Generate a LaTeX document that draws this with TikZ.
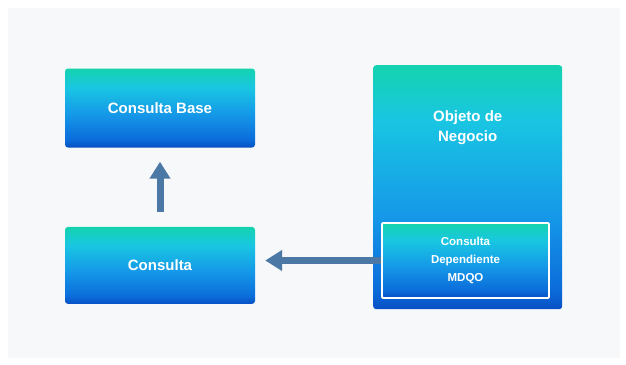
\documentclass[tikz,border=0pt]{standalone}
\usepackage{fontspec}
\setmainfont{Liberation Sans}
\usepackage{tikz}
\usetikzlibrary{arrows.meta,positioning}

\definecolor{tealtop}{HTML}{14D3AE}
\definecolor{cyanmid}{HTML}{19C6E2}
\definecolor{bluemid}{HTML}{1598E8}
\definecolor{bluelow}{HTML}{0B6CDA}
\definecolor{deepblue}{HTML}{0850C4}
\definecolor{arrowblue}{HTML}{4C78A6}
\definecolor{paper}{HTML}{F7F8FA}

\pgfdeclareverticalshading{boxfade}{100bp}{
  color(0bp)=(deepblue); color(25bp)=(deepblue); color(30bp)=(bluelow);
  color(46bp)=(bluemid); color(63bp)=(cyanmid); color(75bp)=(tealtop); color(100bp)=(tealtop)}
\pgfdeclareverticalshading{tallfade}{100bp}{
  color(0bp)=(deepblue); color(25bp)=(deepblue); color(29bp)=(bluelow);
  color(44bp)=(bluemid); color(64bp)=(cyanmid); color(75bp)=(tealtop); color(100bp)=(tealtop)}

\begin{document}
\begin{tikzpicture}[x=1pt,y=-1pt]

		% Define styles
		\tikzstyle{card} = [
		rectangle, rounded corners=3pt, shading=boxfade,
		minimum width=190pt, minimum height=79pt,
		text=white, font=\fontsize{15}{20}\selectfont\bfseries, align=center]
		\tikzstyle{small card} = [
		card, draw=white, line width=1.8pt, rounded corners=1pt,
		minimum width=167pt, minimum height=75pt,
		font=\fontsize{11.5}{18}\selectfont\bfseries]
		\tikzstyle{flow} = [
		draw=arrowblue, line width=7pt,
		-{Triangle[width=20pt,length=17pt]}]

		% Background
		\fill[white] (0,0) rectangle (626,364);
		\fill[paper] (8,8) rectangle (620,358);
		\useasboundingbox (0,0) rectangle (626,364);

		% Nodes
		\node (base) [card] at (160,108) {Consulta Base};

		\node (consulta) [card, below=79pt of base, minimum height=77pt] {Consulta};

		\node (objeto) [card, shading=tallfade, minimum width=189pt,
		minimum height=244pt, anchor=north west] at (373,65) {};
		\node (objetotxt) [below=42pt of objeto.north, text=white,
		font=\fontsize{15}{20}\selectfont\bfseries, align=center] {
			Objeto de \\
			Negocio
		};

		\node (dep) [small card] at (465.5,260.5) {
			Consulta \\
			Dependiente \\
			MDQO
		};

		% Arrows
		\draw [flow, shorten <=15pt, shorten >=14pt] (consulta) -- (base);
		\draw [flow, shorten >=10pt] (dep.west) -- (dep.west -| consulta.east);
	\end{tikzpicture}
\end{document}
